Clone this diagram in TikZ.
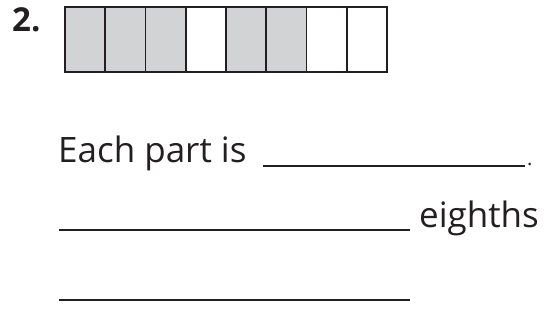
\documentclass[tikz,border=0pt]{standalone}
\usepackage{fontspec}
\setmainfont{Open Sans}
\usetikzlibrary{positioning}
\definecolor{shade}{HTML}{D1D3D4}
\definecolor{ink}{HTML}{231F20}
\tikzset{cell/.style={draw=ink,line width=1.6pt,minimum width=40.25pt,minimum height=65pt,inner sep=0pt,outer sep=0pt},
  filled/.style={cell,fill=shade},
  txt/.style={font=\fontsize{35}{40}\selectfont,text=ink,inner sep=0pt,anchor=base west},
  blank/.style={draw=ink,line width=1.6pt}}
\begin{document}
\begin{tikzpicture}[x=1pt,y=-1pt]
\useasboundingbox (0,0) rectangle (547,336);
\node[font=\bfseries\fontsize{33}{38}\selectfont,text=ink,inner sep=0pt,anchor=base west] (num) at (12,32) {2.};
\foreach \i/\s in {1/filled,2/filled,3/filled,4/cell,5/filled,6/filled,7/cell,8/cell}
  \node[\s] (c\i) at ({65+40.25*(\i-0.5)},39.5) {};
\node[txt] (each) at (58,163) {Each part is};
\draw[blank] (263,166) -- (525,166);
\node[txt,font=\fontsize{20}{24}\selectfont] (dot) at (527,166) {.};
\draw[blank] (59,230) -- (410,230);
\node[txt] (eighths) at (419,228) {eighths};
\draw[blank] (59,300) -- (410,300);
\end{tikzpicture}
\end{document}
